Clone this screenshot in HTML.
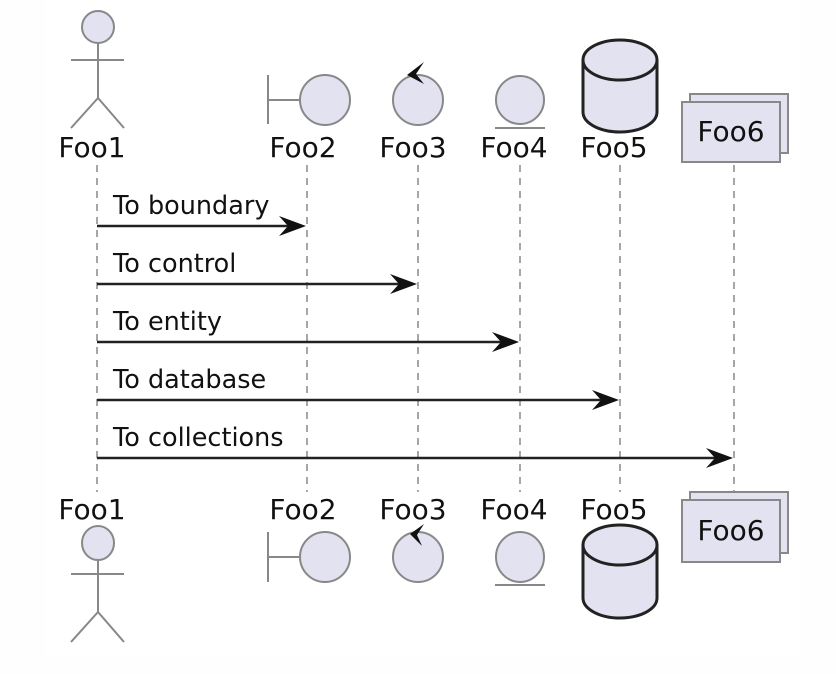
<!DOCTYPE html>
<html><head><meta charset="utf-8"><style>
html,body{margin:0;padding:0;background:#fefefe;}
svg{display:block;}
text{font-family:"DejaVu Sans","Liberation Sans",sans-serif;fill:#111;}
</style></head><body>
<svg width="836" height="674" viewBox="0 0 836 674" xmlns="http://www.w3.org/2000/svg">
<rect x="0" y="0" width="836" height="674" fill="#fefefe"/>
<rect x="45" y="0" width="755" height="655" fill="#ffffff"/>
<g stroke="#888" stroke-width="1.5" stroke-dasharray="7,6">
<line x1="97" y1="165" x2="97" y2="492"/>
<line x1="307" y1="165" x2="307" y2="492"/>
<line x1="418" y1="165" x2="418" y2="492"/>
<line x1="520" y1="165" x2="520" y2="492"/>
<line x1="620" y1="165" x2="620" y2="492"/>
<line x1="734" y1="165" x2="734" y2="492"/>
</g>
<g fill="#e2e2f0" stroke="#888" stroke-width="2">
<circle cx="98" cy="27" r="16"/>
<line x1="98" y1="43" x2="98" y2="98"/><line x1="71" y1="60" x2="124" y2="60"/>
<polyline fill="none" points="71,128 98,98 124,128"/>
<line x1="268" y1="75" x2="268" y2="124"/><line x1="268" y1="100" x2="301" y2="100"/>
<circle cx="325" cy="100" r="25"/>
<circle cx="418" cy="100" r="25"/>
<circle cx="520" cy="100" r="24"/>
<line x1="495" y1="128" x2="545" y2="128"/>
</g>
<path d="M424,62 L407,75 L424,84 L416,74 Z" fill="#111"/>
<g fill="#e2e2f0" stroke="#222" stroke-width="3">
<path d="M583,60 A37,20 0 0 1 657,60 L657,112 A37,20 0 0 1 583,112 Z"/>
<path d="M583,60 A37,20 0 0 0 657,60" fill="none"/>
</g>
<g fill="#e2e2f0" stroke="#888" stroke-width="2">
<rect x="690" y="94" width="98" height="59"/>
<rect x="682" y="102" width="98" height="60"/>
</g>
<g font-size="28">
<text x="92" y="157" text-anchor="middle">Foo1</text>
<text x="303" y="157" text-anchor="middle">Foo2</text>
<text x="413" y="157" text-anchor="middle">Foo3</text>
<text x="514" y="157" text-anchor="middle">Foo4</text>
<text x="614" y="157" text-anchor="middle">Foo5</text>
<text x="731" y="141" text-anchor="middle">Foo6</text>
</g>
<g stroke="#222" stroke-width="2.5">
<line x1="97" y1="226" x2="300" y2="226"/>
<line x1="97" y1="284" x2="411" y2="284"/>
<line x1="97" y1="342" x2="513" y2="342"/>
<line x1="97" y1="400" x2="613" y2="400"/>
<line x1="97" y1="458" x2="727" y2="458"/>
</g>
<g fill="#111">
<path d="M306,226 L279,216 L288,226 L279,236 Z"/>
<path d="M417,284 L390,274 L399,284 L390,294 Z"/>
<path d="M519,342 L492,332 L501,342 L492,352 Z"/>
<path d="M619,400 L592,390 L601,400 L592,410 Z"/>
<path d="M733,458 L706,448 L715,458 L706,468 Z"/>
</g>
<g font-size="25.5">
<text x="113" y="214">To boundary</text>
<text x="113" y="272">To control</text>
<text x="113" y="330">To entity</text>
<text x="113" y="388">To database</text>
<text x="113" y="446">To collections</text>
</g>
<g font-size="28">
<text x="92" y="519" text-anchor="middle">Foo1</text>
<text x="303" y="519" text-anchor="middle">Foo2</text>
<text x="413" y="519" text-anchor="middle">Foo3</text>
<text x="514" y="519" text-anchor="middle">Foo4</text>
<text x="614" y="519" text-anchor="middle">Foo5</text>
</g>
<g fill="#e2e2f0" stroke="#888" stroke-width="2">
<ellipse cx="98" cy="543" rx="16" ry="17"/>
<line x1="98" y1="560" x2="98" y2="612"/><line x1="71" y1="574" x2="124" y2="574"/>
<polyline fill="none" points="71,642 98,612 124,642"/>
<line x1="268" y1="532" x2="268" y2="582"/><line x1="268" y1="557" x2="301" y2="557"/>
<ellipse cx="325" cy="557" rx="25" ry="25"/>
<ellipse cx="418" cy="557" rx="25" ry="25"/>
<ellipse cx="520" cy="557" rx="24" ry="25"/>
<line x1="495" y1="585" x2="545" y2="585"/>
</g>
<path d="M424,524 L410,534 L422,546 L417,535 Z" fill="#111"/>
<g fill="#e2e2f0" stroke="#222" stroke-width="3">
<path d="M583,545 A37,20 0 0 1 657,545 L657,598 A37,20 0 0 1 583,598 Z"/>
<path d="M583,545 A37,20 0 0 0 657,545" fill="none"/>
</g>
<g fill="#e2e2f0" stroke="#888" stroke-width="2">
<rect x="690" y="492" width="98" height="61"/>
<rect x="682" y="500" width="98" height="62"/>
</g>
<text x="731" y="540" text-anchor="middle" font-size="28">Foo6</text>
</svg>
</body></html>
